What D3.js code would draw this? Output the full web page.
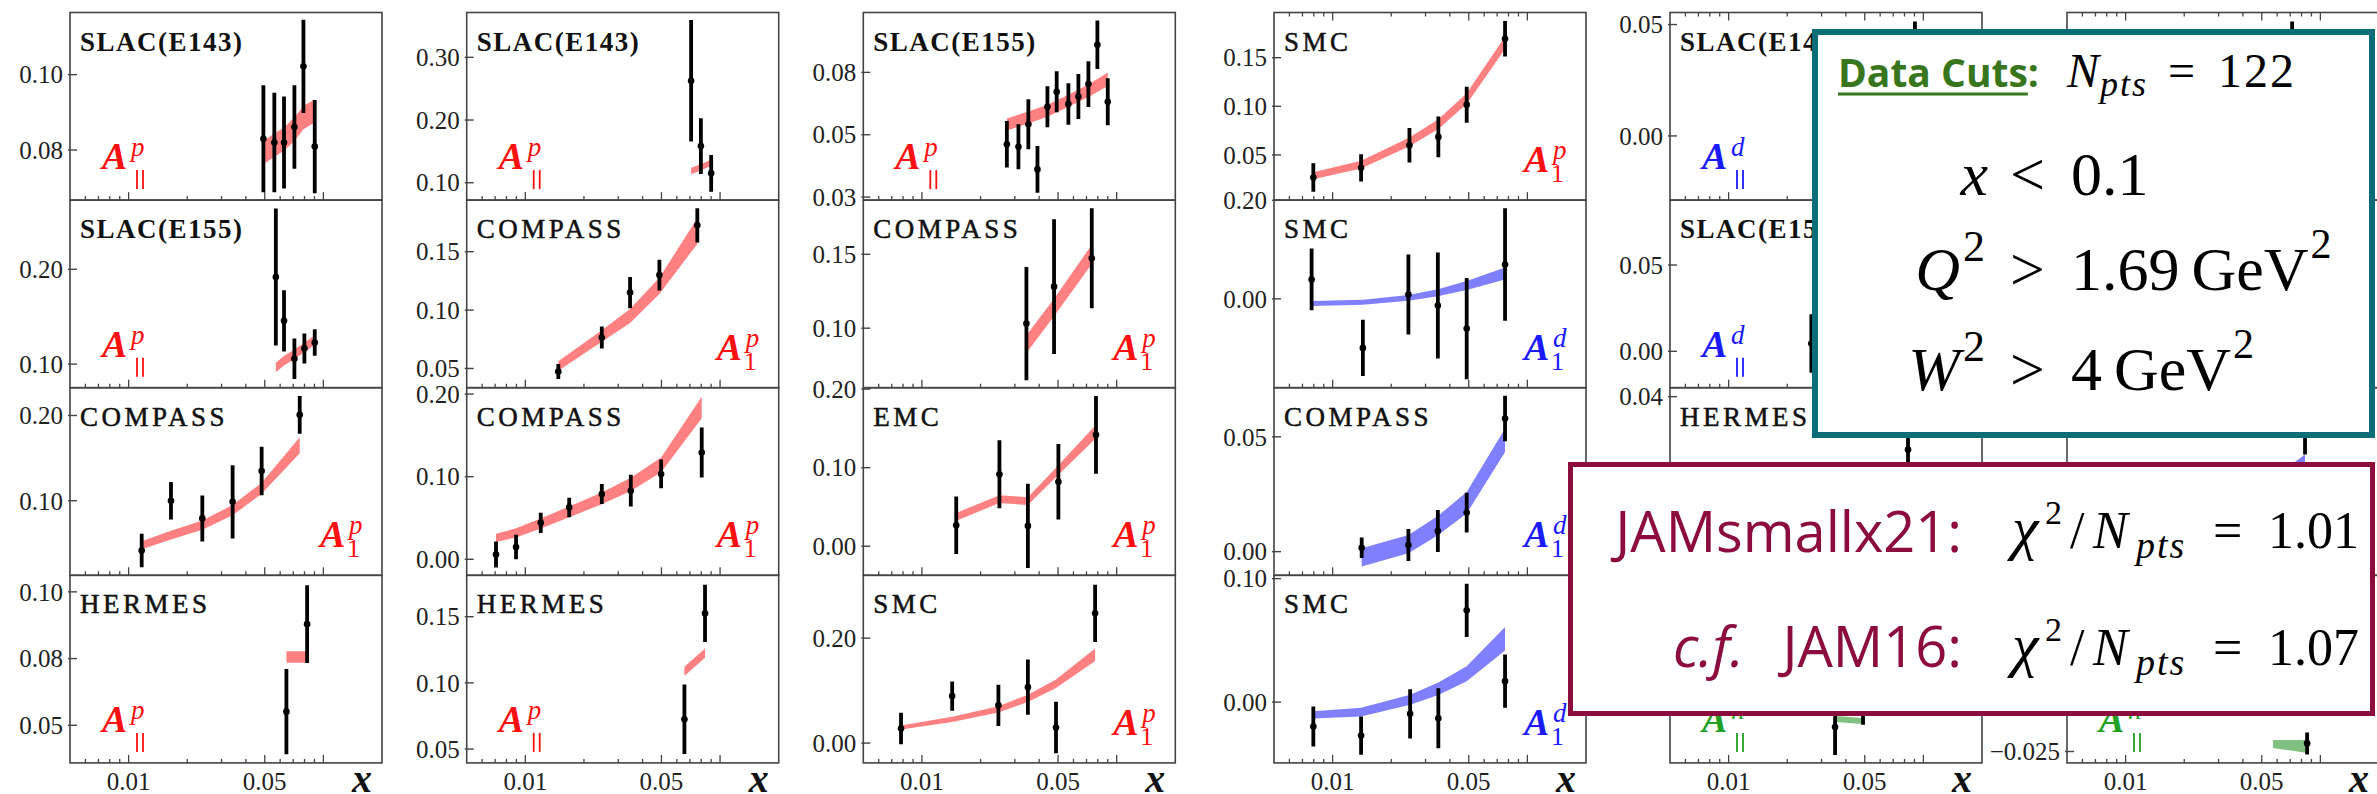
<!DOCTYPE html>
<html>
<head>
<meta charset="utf-8">
<script src="https://cdn.jsdelivr.net/npm/d3@7"></script>
<style>
body { margin: 0; background: #fff; }
svg { display: block; }
.tick { font-family: "Liberation Serif", serif; font-size: 25px; fill: #222; }
.title { font-family: "Liberation Serif", serif; font-size: 27px; fill: #111; }
.alab { font-family: "Liberation Serif", serif; font-size: 38px; font-weight: bold; font-style: italic; }
.asup { font-size: 27px; font-weight: normal; font-style: italic; }
.asub { font-size: 26px; font-weight: normal; font-style: normal; }
.xlab { font-family: "Liberation Serif", serif; font-size: 40px; font-weight: bold; font-style: italic; fill: #111; }
.math { font-family: "Liberation Serif", serif; fill: #000; }
.sans { font-family: "Open Sans", sans-serif; }
</style>
</head>
<body>
<svg id="svg" width="2377" height="794"></svg>
<script>
// ---- data: points are [x, value, error], bands are [x, low, high] ----
// column 1
var p11_pts = [[0.0492,0.0830,0.0142],[0.0560,0.0820,0.0132],[0.0628,0.0820,0.0122],[0.0710,0.0861,0.0111],[0.0790,0.1022,0.0124],[0.0903,0.0809,0.0124]];
var p11_band = [[0.0492,0.0762,0.0824],[0.0560,0.0782,0.0844],[0.0628,0.0798,0.0860],[0.0710,0.0824,0.0886],[0.0790,0.0855,0.0917],[0.0903,0.0873,0.0935]];
var p12_pts = [[0.0570,0.1919,0.0723],[0.0628,0.1456,0.0323],[0.0710,0.1056,0.0214],[0.0799,0.1164,0.0158],[0.0903,0.1227,0.0140]];
var p12_band = [[0.0570,0.0915,0.1015],[0.0628,0.0985,0.1085],[0.0710,0.1055,0.1155],[0.0799,0.1125,0.1225],[0.0903,0.1203,0.1303]];
var p13_pts = [[0.01167,0.0416,0.0196],[0.0165,0.1000,0.0220],[0.0239,0.0793,0.0270],[0.0342,0.0988,0.0430],[0.0482,0.1349,0.0284],[0.0756,0.2008,0.0222]];
var p13_band = [[0.01167,0.0432,0.0526],[0.0165,0.0547,0.0647],[0.0239,0.0659,0.0769],[0.0342,0.0830,0.0950],[0.0482,0.1081,0.1211],[0.0756,0.1558,0.1746]];
var p14_pts = [[0.0646,0.0551,0.0160],[0.0825,0.0879,0.0146]];
var p14_band = [[0.0646,0.0734,0.0777],[0.0825,0.0734,0.0777]];
// column 2
var p21_pts = [[0.0710,0.2627,0.0968],[0.0797,0.1584,0.0443],[0.0900,0.1150,0.0293]];
var p21_band = [[0.0710,0.1137,0.1237],[0.0797,0.1195,0.1295],[0.0900,0.1270,0.1370]];
var p22_pts = [[0.01477,0.0474,0.0064],[0.0247,0.0765,0.0095],[0.0345,0.1150,0.0134],[0.0488,0.1300,0.0132],[0.0764,0.1726,0.0147]];
var p22_band = [[0.01477,0.0481,0.0561],[0.0247,0.0728,0.0828],[0.0345,0.0890,0.1010],[0.0488,0.1137,0.1277],[0.0764,0.1567,0.1787]];
var p23_pts = [[0.00707,0.0057,0.0158],[0.00896,0.0149,0.0148],[0.0120,0.0441,0.0122],[0.0168,0.0628,0.0118],[0.0247,0.0790,0.0122],[0.0348,0.0830,0.0192],[0.0498,0.1033,0.0174],[0.0805,0.1292,0.0302]];
var p23_band = [[0.00707,0.0209,0.0309],[0.00896,0.0265,0.0375],[0.0120,0.0374,0.0494],[0.0168,0.0510,0.0640],[0.0247,0.0667,0.0807],[0.0348,0.0827,0.0987],[0.0498,0.1052,0.1232],[0.0805,0.1708,0.1968]];
var p24_pts = [[0.0656,0.0725,0.0262],[0.0837,0.1525,0.0216]];
var p24_band = [[0.0656,0.1052,0.1122],[0.0837,0.1190,0.1260]];
// column 3
var p31_pts = [[0.0273,0.0512,0.0093],[0.0313,0.0502,0.0090],[0.0352,0.0592,0.0100],[0.0392,0.0411,0.0094],[0.0441,0.0662,0.0082],[0.0492,0.0722,0.0082],[0.0565,0.0673,0.0083],[0.0636,0.0703,0.0090],[0.0716,0.0753,0.0092],[0.0796,0.0911,0.0097],[0.0900,0.0682,0.0094]];
var p31_band = [[0.0273,0.0567,0.0615],[0.0352,0.0595,0.0643],[0.0441,0.0622,0.0670],[0.0565,0.0662,0.0710],[0.0716,0.0701,0.0751],[0.0900,0.0745,0.0799]];
var p32_pts = [[0.0344,0.1031,0.0383],[0.0477,0.1281,0.0456],[0.0745,0.1473,0.0338]];
var p32_band = [[0.0344,0.0832,0.0952],[0.0477,0.1080,0.1200],[0.0745,0.1435,0.1565]];
var p33_pts = [[0.0150,0.0268,0.0366],[0.0250,0.0916,0.0432],[0.0350,0.0259,0.0536],[0.0502,0.0821,0.0481],[0.0783,0.1418,0.0494]];
var p33_band = [[0.0150,0.0324,0.0424],[0.0250,0.0550,0.0650],[0.0350,0.0525,0.0625],[0.0502,0.0910,0.1030],[0.0783,0.1375,0.1545]];
var p34_pts = [[0.00781,0.0278,0.0300],[0.0143,0.0895,0.0278],[0.0247,0.0719,0.0394],[0.0350,0.1066,0.0527],[0.0488,0.0297,0.0489],[0.0775,0.2473,0.0546]];
var p34_band = [[0.00781,0.0257,0.0337],[0.0143,0.0404,0.0504],[0.0247,0.0583,0.0703],[0.0350,0.0781,0.0921],[0.0488,0.1050,0.1210],[0.0775,0.1564,0.1804]];
// column 4
var p41_pts = [[0.00796,0.0268,0.0146],[0.0140,0.0367,0.0140],[0.0248,0.0600,0.0178],[0.0349,0.0685,0.0209],[0.0488,0.1017,0.0185],[0.0768,0.1695,0.0183]];
var p41_band = [[0.00796,0.0249,0.0321],[0.0140,0.0360,0.0440],[0.0248,0.0589,0.0679],[0.0349,0.0766,0.0866],[0.0488,0.1024,0.1134],[0.0768,0.1589,0.1719]];
var p42_pts = [[0.0078,0.0393,0.0627],[0.0143,-0.0997,0.0570],[0.0245,0.0087,0.0814],[0.0347,-0.0136,0.1078],[0.0488,-0.0604,0.1027],[0.0768,0.0698,0.1143]];
var p42_band = [[0.0078,-0.0146,-0.0046],[0.0143,-0.0119,-0.0019],[0.0245,-0.0040,0.0080],[0.0347,0.0052,0.0192],[0.0488,0.0181,0.0361],[0.0768,0.0395,0.0635]];
var p43_pts = [[0.0141,0.0017,0.0045],[0.0245,0.0029,0.0070],[0.0347,0.0090,0.0091],[0.0488,0.0170,0.0087],[0.0768,0.0580,0.0099]];
var p43_band = [[0.0141,-0.0065,0.0015],[0.0245,-0.0007,0.0073],[0.0347,0.0071,0.0155],[0.0488,0.0166,0.0260],[0.0768,0.0434,0.0536]];
var p44_pts = [[0.00796,-0.0198,0.0162],[0.0140,-0.0271,0.0155],[0.0250,-0.0095,0.0200],[0.0349,-0.0130,0.0243],[0.0488,0.0743,0.0216],[0.0768,0.0170,0.0216]];
var p44_band = [[0.00796,-0.0133,-0.0073],[0.0140,-0.0116,-0.0046],[0.0250,-0.0021,0.0059],[0.0349,0.0058,0.0158],[0.0488,0.0170,0.0290],[0.0768,0.0418,0.0608]];
// columns 5 and 6 (mostly behind the boxes)
var p51_pts = [[0.0905,0.0300,0.0214]];
var p51_band = [];
var p52_pts = [[0.0266,0.0045,0.0169]];
var p52_band = [];
var p53_pts = [[0.0834,0.0222,0.0080]];
var p53_band = [];
var p54_pts = [[0.0352,-0.0309,0.0149],[0.0490,-0.0191,0.0106]];
var p54_band = [[0.0352,-0.0282,-0.0250],[0.0490,-0.0293,-0.0261]];
var p61_pts = [[0.0716,0.0450,0.0202]];
var p61_band = [];
var p62_pts = [];
var p62_band = [];
var p63_pts = [[0.0834,0.0400,0.0085]];
var p63_band = [[0.0500,0.0100,0.0180],[0.0834,0.0245,0.0315]];
var p64_pts = [[0.0855,-0.0211,0.0053]];
var p64_band = [[0.0571,-0.0233,-0.0195],[0.0855,-0.0257,-0.0195]];

var xMajor = [0.01, 0.05, 0.1];
var xMinor = [0.006, 0.007, 0.008, 0.009, 0.02, 0.03, 0.04, 0.06, 0.07, 0.08, 0.09];
var xLabels = ['0.01', '0.05'];

// panel table: col, row, title, label superscript/subscript, tone, y domain, y ticks
var panels = [
  {c:0, r:0, title:'SLAC(E143)', bold:true, sup:'p', sub:'par', tone:'p', dom:[0.0667,0.1165], ticks:[0.08,0.10], pts:p11_pts, band:p11_band},
  {c:0, r:1, title:'SLAC(E155)', bold:true, sup:'p', sub:'par', tone:'p', dom:[0.0751,0.273], ticks:[0.10,0.20], pts:p12_pts, band:p12_band},
  {c:0, r:2, title:'COMPASS', sup:'p', sub:'1', tone:'p', dom:[0.0126,0.2326], ticks:[0.10,0.20], pts:p13_pts, band:p13_band},
  {c:0, r:3, title:'HERMES', sup:'p', sub:'par', tone:'p', dom:[0.0359,0.1062], ticks:[0.05,0.075,0.10], labels:['0.05','0.08','0.10'], pts:p14_pts, band:p14_band},
  {c:1, r:0, title:'SLAC(E143)', bold:true, sup:'p', sub:'par', tone:'p', dom:[0.0723,0.3715], ticks:[0.10,0.20,0.30], pts:p21_pts, band:p21_band},
  {c:1, r:1, title:'COMPASS', sup:'p', sub:'1', tone:'p', dom:[0.0335,0.1942], ticks:[0.05,0.10,0.15], pts:p22_pts, band:p22_band},
  {c:1, r:2, title:'COMPASS', sup:'p', sub:'1', tone:'p', dom:[-0.0194,0.2077], ticks:[0.00,0.10,0.20], pts:p23_pts, band:p23_band},
  {c:1, r:3, title:'HERMES', sup:'p', sub:'par', tone:'p', dom:[0.0395,0.1813], ticks:[0.05,0.10,0.15], pts:p24_pts, band:p24_band},
  {c:2, r:0, title:'SLAC(E155)', bold:true, sup:'p', sub:'par', tone:'p', dom:[0.0288,0.104], ticks:[0.03,0.055,0.08], labels:['0.03','0.05','0.08'], pts:p31_pts, band:p31_band},
  {c:2, r:1, title:'COMPASS', sup:'p', sub:'1', tone:'p', dom:[0.0597,0.1867], ticks:[0.10,0.15], pts:p32_pts, band:p32_band},
  {c:2, r:2, title:'EMC', sup:'p', sub:'1', tone:'p', dom:[-0.037,0.2018], ticks:[0.00,0.10,0.20], pts:p33_pts, band:p33_band},
  {c:2, r:3, title:'SMC', sup:'p', sub:'1', tone:'p', dom:[-0.0378,0.3198], ticks:[0.00,0.20], pts:p34_pts, band:p34_band},
  {c:3, r:0, title:'SMC', sup:'p', sub:'1', tone:'p', dom:[0.0035,0.1965], ticks:[0.05,0.10,0.15], pts:p41_pts, band:p41_band},
  {c:3, r:1, title:'SMC', sup:'d', sub:'1', tone:'d', dom:[-0.1805,0.2005], ticks:[0.00,0.20], pts:p42_pts, band:p42_band},
  {c:3, r:2, title:'COMPASS', sup:'d', sub:'1', tone:'d', dom:[-0.0103,0.0714], ticks:[0.00,0.05], pts:p43_pts, band:p43_band},
  {c:3, r:3, title:'SMC', sup:'d', sub:'1', tone:'d', dom:[-0.0492,0.1027], ticks:[0.00,0.10], pts:p44_pts, band:p44_band},
  {c:4, r:0, title:'SLAC(E143)', bold:true, sup:'d', sub:'par', tone:'d', dom:[-0.0288,0.0554], ticks:[0.00,0.05], pts:p51_pts, band:p51_band},
  {c:4, r:1, title:'SLAC(E155)', bold:true, sup:'d', sub:'par', tone:'d', dom:[-0.0211,0.0876], ticks:[0.00,0.05], pts:p52_pts, band:p52_band},
  {c:4, r:2, title:'HERMES', sup:null, tone:'d', dom:[-0.02,0.043], ticks:[0.04], pts:p53_pts, band:p53_band},
  {c:4, r:3, title:'', sup:'h', sub:'par', tone:'h', dom:[-0.05,0.05], ticks:[], pts:p54_pts, band:p54_band},
  {c:5, r:0, title:'', sup:null, tone:'d', dom:[-0.03,0.07], ticks:[], pts:p61_pts, band:p61_band},
  {c:5, r:1, title:'', sup:null, tone:'d', dom:[-0.03,0.07], ticks:[], pts:p62_pts, band:p62_band},
  {c:5, r:2, title:'', sup:null, tone:'d', dom:[-0.02,0.06], ticks:[], pts:p63_pts, band:p63_band},
  {c:5, r:3, title:'', sup:'h', sub:'par', tone:'h', dom:[-0.0305,0.06], ticks:[-0.025], labels:['\u22120.025'], pts:p64_pts, band:p64_band}
];

var labelColor = {p: '#ff1010', d: '#1a1aff', h: '#22a022'};
var bandColor = {p: '#ff8080', d: '#8080ff', h: '#80c080'};

var colLeft = [70, 466.7, 863.3, 1274, 1670, 2067];
var W = 312;
var rowH = 187.6;
var top0 = 12.5;

var svg = d3.select('#svg');
var defs = svg.append('defs');
defs.append('clipPath').attr('id', 'pclip')
    .append('rect').attr('width', W).attr('height', rowH);

var x = d3.scaleLog().domain([0.005, 0.2]).range([0, W]);
var fmt = d3.format('.2f');

panels.forEach(function (p) {
    var g = svg.append('g')
        .attr('transform', 'translate(' + colLeft[p.c] + ',' + (top0 + p.r * rowH) + ')');
    var y = d3.scaleLinear().domain(p.dom).range([rowH, 0]);

    var inner = g.append('g').attr('clip-path', 'url(#pclip)');

    if (p.band.length) {
        inner.append('path')
            .datum(p.band)
            .attr('d', d3.area()
                .x(function (d) { return x(d[0]); })
                .y0(function (d) { return y(d[1]); })
                .y1(function (d) { return y(d[2]); }))
            .attr('fill', bandColor[p.tone]);
    }

    inner.selectAll('.err')
        .data(p.pts)
        .enter()
        .append('line')
        .attr('class', 'err')
        .attr('x1', function (d) { return x(d[0]); })
        .attr('x2', function (d) { return x(d[0]); })
        .attr('y1', function (d) { return y(d[1] - d[2]); })
        .attr('y2', function (d) { return y(d[1] + d[2]); })
        .attr('stroke', '#000')
        .attr('stroke-width', 3.8);

    inner.selectAll('.pt')
        .data(p.pts)
        .enter()
        .append('circle')
        .attr('class', 'pt')
        .attr('cx', function (d) { return x(d[0]); })
        .attr('cy', function (d) { return y(d[1]); })
        .attr('r', 3.3)
        .attr('fill', '#000');

    g.append('rect')
        .attr('width', W)
        .attr('height', rowH)
        .attr('fill', 'none')
        .attr('stroke', '#444')
        .attr('stroke-width', 1.6);

    // y ticks
    p.ticks.forEach(function (t, k) {
        g.append('line')
            .attr('x1', -2).attr('x2', 7)
            .attr('y1', y(t)).attr('y2', y(t))
            .attr('stroke', '#444').attr('stroke-width', 1.4);
        g.append('text')
            .attr('class', 'tick')
            .attr('x', -7)
            .attr('y', y(t))
            .attr('dy', '0.35em')
            .attr('text-anchor', 'end')
            .text(p.labels ? p.labels[k] : fmt(t));
    });

    // x ticks at the bottom (and at the top of the first row on the right block)
    var edges = [rowH];
    if (p.c >= 3 && p.r === 0) edges.push(0);
    edges.forEach(function (e) {
        var dir = e === 0 ? 1 : -1;
        xMajor.concat(xMinor).forEach(function (t) {
            var len = xMajor.indexOf(t) >= 0 ? 8 : 4;
            g.append('line')
                .attr('x1', x(t)).attr('x2', x(t))
                .attr('y1', e).attr('y2', e + dir * len)
                .attr('stroke', '#444').attr('stroke-width', 1.3);
        });
    });

    if (p.r === 3) {
        xLabels.forEach(function (t) {
            g.append('text')
                .attr('class', 'tick')
                .attr('x', x(+t))
                .attr('y', rowH + 27)
                .attr('text-anchor', 'middle')
                .text(t);
        });
        g.append('text')
            .attr('class', 'xlab')
            .attr('x', W - 30)
            .attr('y', rowH + 29)
            .text('x');
    }

    if (p.title) {
        g.append('text')
            .attr('class', 'title')
            .attr('x', 10)
            .attr('y', 38)
            .style('font-weight', p.bold ? 'bold' : 'normal')
            .style('letter-spacing', p.bold ? '1.5px' : '3.5px')
            .style('stroke', p.bold ? 'none' : '#111')
            .style('stroke-width', p.bold ? 0 : 0.5)
            .text(p.title);
    }

    if (p.sup) {
        var col = labelColor[p.tone];
        var right = p.sub === '1';
        var ax = right ? W - 62 : 32;
        var ay = right ? rowH - 28 : rowH - 31;
        var lab = g.append('text').attr('class', 'alab').attr('x', ax).attr('y', ay).attr('fill', col);
        lab.append('tspan').text('A');
        lab.append('tspan').attr('class', 'asup').attr('x', ax + 29).attr('y', ay - 13).text(p.sup);
        if (right) {
            lab.append('tspan').attr('class', 'asub').attr('x', ax + 27).attr('y', ay + 10).text('1');
        } else {
            g.append('line').attr('x1', ax + 35).attr('x2', ax + 35).attr('y1', ay + 1).attr('y2', ay + 20)
                .attr('stroke', col).attr('stroke-width', 1.8);
            g.append('line').attr('x1', ax + 41).attr('x2', ax + 41).attr('y1', ay + 1).attr('y2', ay + 20)
                .attr('stroke', col).attr('stroke-width', 1.8);
        }
    }
});

// ---- overlay boxes ----
var teal = '#0b6d77';
var maroon = '#8c0c3e';
var green = '#37761c';

svg.append('rect')
    .attr('x', 1815).attr('y', 32)
    .attr('width', 557).attr('height', 403)
    .attr('fill', '#fff')
    .attr('stroke', teal)
    .attr('stroke-width', 6);

var cuts = svg.append('text')
    .attr('class', 'sans')
    .attr('x', 1838).attr('y', 87)
    .style('font-size', '39px').style('font-weight', 'bold')
    .attr('fill', green)
    .text('Data Cuts');
var cutsLen = cuts.node().getComputedTextLength();
svg.append('text')
    .attr('class', 'sans')
    .attr('x', 1838 + cutsLen).attr('y', 87)
    .style('font-size', '39px').style('font-weight', 'bold')
    .attr('fill', green)
    .text(':');
svg.append('line')
    .attr('x1', 1838).attr('x2', 1838 + cutsLen)
    .attr('y1', 94).attr('y2', 94)
    .attr('stroke', green).attr('stroke-width', 3);

svg.append('text').attr('class', 'math').attr('x', 2067).attr('y', 87)
    .style('font-size', '48px').style('font-style', 'italic').attr('fill', green).text('N');
svg.append('text').attr('class', 'math').attr('x', 2100).attr('y', 96)
    .style('font-size', '36px').style('font-style', 'italic').style('letter-spacing', '2px').attr('fill', green).text('pts');
svg.append('text').attr('class', 'math').attr('x', 2168).attr('y', 87)
    .style('font-size', '48px').attr('fill', green).text('=');
svg.append('text').attr('class', 'math').attr('x', 2218).attr('y', 87)
    .style('font-size', '48px').style('letter-spacing', '2px').attr('fill', green).text('122');

var cutLines = [
    {y: 195, lhs: 'x', sq: false, rel: '<', rhs: '0.1', unit: false},
    {y: 290, lhs: 'Q', sq: true, rel: '>', rhs: '1.69', unit: true},
    {y: 390, lhs: 'W', sq: true, rel: '>', rhs: '4', unit: true}
];
cutLines.forEach(function (l) {
    var lhsEnd = l.sq ? 1960 : 1988;
    svg.append('text').attr('class', 'math').attr('x', lhsEnd).attr('y', l.y)
        .attr('text-anchor', 'end')
        .style('font-size', '62px').style('font-style', 'italic').text(l.lhs);
    if (l.sq) {
        svg.append('text').attr('class', 'math').attr('x', 1963).attr('y', l.y - 29)
            .style('font-size', '44px').text('2');
    }
    svg.append('text').attr('class', 'math').attr('x', 2010).attr('y', l.y)
        .style('font-size', '62px').text(l.rel);
    var num = svg.append('text').attr('class', 'math').attr('x', 2071).attr('y', l.y)
        .style('font-size', '62px').text(l.rhs);
    if (l.unit) {
        var ux = 2071 + num.node().getComputedTextLength() + 12;
        var unit = svg.append('text').attr('class', 'math').attr('x', ux).attr('y', l.y)
            .style('font-size', '62px').text('GeV');
        svg.append('text').attr('class', 'math')
            .attr('x', ux + unit.node().getComputedTextLength() + 2).attr('y', l.y - 32)
            .style('font-size', '42px').text('2');
    }
});

svg.append('rect')
    .attr('x', 1570.5).attr('y', 464.5)
    .attr('width', 802).attr('height', 249)
    .attr('fill', '#fff')
    .attr('stroke', maroon)
    .attr('stroke-width', 5);

svg.append('text').attr('class', 'sans')
    .attr('x', 1962).attr('y', 552)
    .attr('text-anchor', 'end')
    .style('font-size', '56px')
    .attr('fill', maroon)
    .text('JAMsmallx21:');
svg.append('text').attr('class', 'sans')
    .attr('x', 1962).attr('y', 667)
    .attr('text-anchor', 'end')
    .style('font-size', '56px')
    .attr('fill', maroon)
    .text('JAM16:');
svg.append('text').attr('class', 'sans')
    .attr('x', 1744).attr('y', 667)
    .attr('text-anchor', 'end')
    .style('font-size', '56px').style('font-style', 'italic')
    .attr('fill', maroon)
    .text('c.f.');

var chiLines = [{y: 548, val: '1.01'}, {y: 665, val: '1.07'}];
chiLines.forEach(function (l) {
    svg.append('text').attr('class', 'math').attr('x', 2012).attr('y', l.y)
        .style('font-size', '60px').style('font-style', 'italic').text('\u03c7');
    svg.append('text').attr('class', 'math').attr('x', 2045).attr('y', l.y - 24)
        .style('font-size', '34px').text('2');
    svg.append('text').attr('class', 'math').attr('x', 2070).attr('y', l.y)
        .style('font-size', '52px').text('/');
    svg.append('text').attr('class', 'math').attr('x', 2093).attr('y', l.y)
        .style('font-size', '52px').style('font-style', 'italic').text('N');
    svg.append('text').attr('class', 'math').attr('x', 2136).attr('y', l.y + 10)
        .style('font-size', '38px').style('font-style', 'italic').style('letter-spacing', '2px').text('pts');
    svg.append('text').attr('class', 'math').attr('x', 2213).attr('y', l.y)
        .style('font-size', '52px').text('=');
    svg.append('text').attr('class', 'math').attr('x', 2268).attr('y', l.y)
        .style('font-size', '52px').text(l.val);
});
</script>
</body>
</html>
